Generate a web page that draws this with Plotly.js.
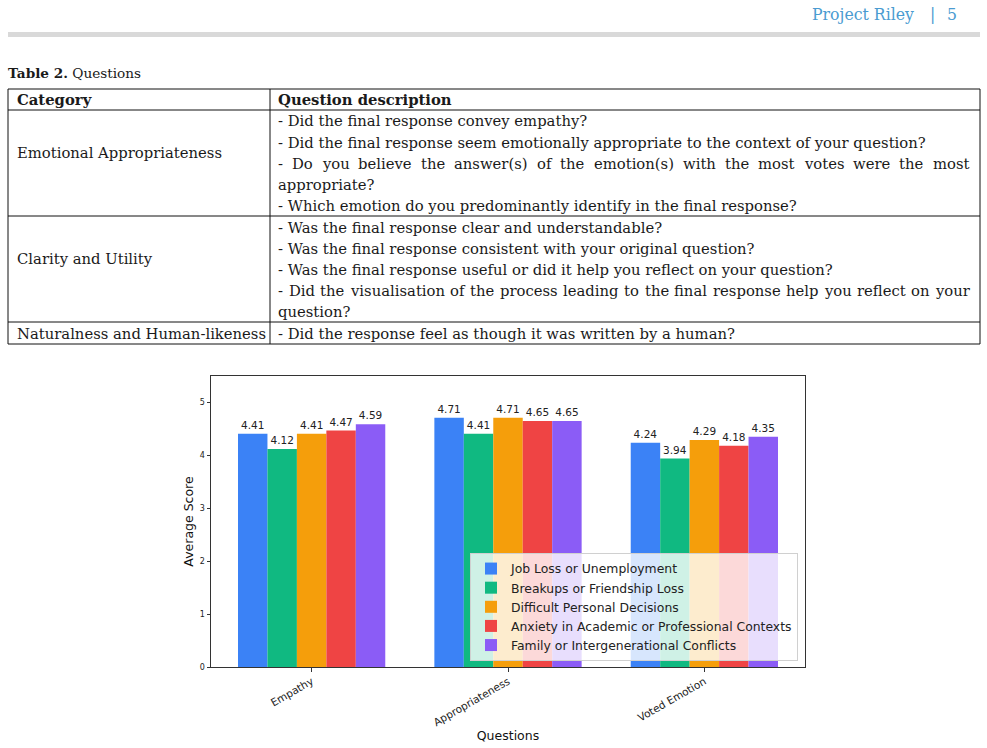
<!DOCTYPE html>
<html><head><meta charset="utf-8">
<script src="https://cdn.plot.ly/plotly-3.0.1.min.js"></script>
<style>html,body{margin:0;padding:0;background:#fff;}#chart{width:987px;height:748px;}</style>
</head><body><div id="chart"></div>
<script>
// ---- chart data ----
const questions = ['Empathy', 'Appropriateness', 'Voted Emotion'];
const seriesNames = ['Job Loss or Unemployment', 'Breakups or Friendship Loss', 'Difficult Personal Decisions', 'Anxiety in Academic or Professional Contexts', 'Family or Intergenerational Conflicts'];
const jobLoss = [4.41, 4.71, 4.24];
const breakups = [4.12, 4.41, 3.94];
const decisions = [4.41, 4.71, 4.29];
const anxiety = [4.47, 4.65, 4.18];
const family = [4.59, 4.65, 4.35];
const yTicks = [0, 1, 2, 3, 4, 5];

// ---- table data ----
const headerTitle = 'Project Riley';
const pageNumber = '5';
const tableCaptionLabel = 'Table 2.';
const tableCaption = 'Questions';
const tableHeaders = ['Category', 'Question description'];
const tableCategories = ['Emotional Appropriateness', 'Clarity and Utility', 'Naturalness and Human-likeness'];
const emotionalLines = [
  '- Did the final response convey empathy?',
  '- Did the final response seem emotionally appropriate to the context of your question?',
  '- Do you believe the answer(s) of the emotion(s) with the most votes were the most',
  'appropriate?',
  '- Which emotion do you predominantly identify in the final response?'
];
const clarityLines = [
  '- Was the final response clear and understandable?',
  '- Was the final response consistent with your original question?',
  '- Was the final response useful or did it help you reflect on your question?',
  '- Did the visualisation of the process leading to the final response help you reflect on your',
  'question?'
];
const naturalLines = ['- Did the response feel as though it was written by a human?'];
const tableLines = [emotionalLines, clarityLines, naturalLines];

// ---- styling / geometry ----
const colors = ['#3b82f6', '#10b981', '#f59e0b', '#ef4444', '#8b5cf6'];
const W = 987, H = 748;
const X = p => p / W;
const Y = p => 1 - p / H;
const serifName = 'DejaVu Serif';
const serif = '"DejaVu Serif", "Liberation Serif", serif';
const sans = '"DejaVu Sans", sans-serif';
const PAD = 2; // annotation inner padding offset

const ctx = document.createElement('canvas').getContext('2d');
function measure(t, size, bold) { ctx.font = (bold ? 'bold ' : '') + size + 'px "' + serifName + '"'; return ctx.measureText(t).width; }
function fit(t, target, bold) { return 20 * target / measure(t, 20, bold); }
const bodySize = fit(emotionalLines[1], 648, false);

const shapes = [];
const annotations = [];
function hline(y, x0, x1, color, w) { shapes.push({type: 'line', xref: 'paper', yref: 'paper', x0: X(x0), x1: X(x1), y0: Y(y), y1: Y(y), line: {color: color, width: w}}); }
function vline(x, y0, y1, color, w) { shapes.push({type: 'line', xref: 'paper', yref: 'paper', x0: X(x), x1: X(x), y0: Y(y0), y1: Y(y1), line: {color: color, width: w}}); }
function txt(t, x, y, size, opts) {
  annotations.push(Object.assign({text: t, xref: 'paper', yref: 'paper', x: X(x - PAD), y: Y(y), xanchor: 'left', yanchor: 'middle', showarrow: false, font: {family: serif, size: size, color: '#1a1a1a'}}, opts || {}));
}

// page header
const hdrSize = fit(headerTitle, 102, false);
const hdrFont = {family: serif, size: hdrSize, color: '#4a9bd1'};
txt(headerTitle, 918, 15, hdrSize, {xanchor: 'right', font: hdrFont});
txt('|', 934, 15, hdrSize, {xanchor: 'center', font: hdrFont});
txt(pageNumber, 954, 15, hdrSize, {xanchor: 'center', font: hdrFont});
shapes.push({type: 'rect', xref: 'paper', yref: 'paper', x0: X(8), x1: X(980), y0: Y(32), y1: Y(37), fillcolor: '#d9d9d9', line: {width: 0}});

// caption
txt('<b>' + tableCaptionLabel + '</b> ' + tableCaption, 8, 73, bodySize * 0.92);

// table frame
const tTop = 89, hdrBottom = 110, lineH = 21, colX = 270, tLeft = 8, tRight = 980;
const catX = 17, qX = 278, qRight = 969;
hline(tTop, tLeft, tRight, '#111', 1);
hline(hdrBottom, tLeft, tRight, '#111', 1);
txt('<b>' + tableHeaders[0] + '</b>', catX, 100, bodySize);
txt('<b>' + tableHeaders[1] + '</b>', qX, 100, bodySize);
let rowTop = hdrBottom;
tableLines.forEach((lines, r) => {
  lines.forEach((ln, j) => {
    const y = rowTop + 11 + lineH * j;
    const next = lines[j + 1];
    const justify = next !== undefined && !next.startsWith('- ');
    if (justify) {
      const words = ln.split(' ');
      const widths = words.map(w => measure(w, bodySize, false));
      const total = widths.reduce((a, b) => a + b, 0);
      const gap = (qRight - qX - total) / (words.length - 1);
      let x = qX;
      words.forEach((w, k) => { txt(w, x, y, bodySize); x += widths[k] + gap; });
    } else {
      txt(ln, qX, y, bodySize);
    }
  });
  const nC = Math.min(4, lines.length);
  const cy = rowTop + 11 + lineH * (nC - 1) / 2;
  txt(tableCategories[r], catX, cy, bodySize);
  rowTop = rowTop + lineH * lines.length + 1;
  hline(rowTop, tLeft, tRight, '#111', 1);
});
vline(tLeft, tTop, rowTop, '#111', 1);
vline(colX, tTop, rowTop, '#111', 1);
vline(tRight, tTop, rowTop, '#111', 1);

// ---- bar chart ----
const seriesValues = [jobLoss, breakups, decisions, anxiety, family];
const traces = seriesValues.map((vals, i) => ({
  type: 'bar', name: seriesNames[i], x: questions, y: vals,
  marker: {color: colors[i], line: {width: 0}},
  text: vals.map(v => v.toFixed(2)), textposition: 'outside', cliponaxis: false,
  textfont: {family: sans, size: 10.5, color: '#222'}
}));

const layout = {
  width: W, height: H, margin: {l: 0, r: 0, t: 0, b: 0},
  paper_bgcolor: '#fff', plot_bgcolor: '#fff',
  barmode: 'group', bargap: 0.25, bargroupgap: 0,
  showlegend: true,
  legend: {x: X(798), xanchor: 'right', y: 1 - 661 / H, yanchor: 'bottom',
    bgcolor: 'rgba(255,255,255,0.8)', bordercolor: '#d0d0d0', borderwidth: 1,
    font: {family: sans, size: 12.4, color: '#222'}, tracegroupgap: 0, itemwidth: 30},
  xaxis: {domain: [X(211), X(805)], range: [-0.5125, 2.5125], type: 'category',
    showline: true, mirror: true, linecolor: '#333', linewidth: 1,
    ticks: 'outside', ticklen: 3.5, tickcolor: '#333', tickangle: -30,
    tickfont: {family: sans, size: 10.5, color: '#222'}, showgrid: false, automargin: false,
    title: {text: 'Questions', font: {family: sans, size: 12.5, color: '#111'}, standoff: 0}},
  yaxis: {domain: [1 - 667 / H, 1 - 376 / H], range: [0, 5.5], tickvals: yTicks,
    showline: true, mirror: true, linecolor: '#333', linewidth: 1,
    ticks: 'outside', ticklen: 3.5, tickcolor: '#333', zeroline: false, showgrid: false,
    tickfont: {family: sans, size: 8, color: '#222'}, automargin: false,
    title: {text: 'Average Score', font: {family: sans, size: 12.5, color: '#111'}, standoff: 3}},
  shapes: shapes, annotations: annotations,
  font: {family: sans}
};
Plotly.newPlot('chart', traces, layout, {displayModeBar: false, staticPlot: true});
</script>
</body></html>
